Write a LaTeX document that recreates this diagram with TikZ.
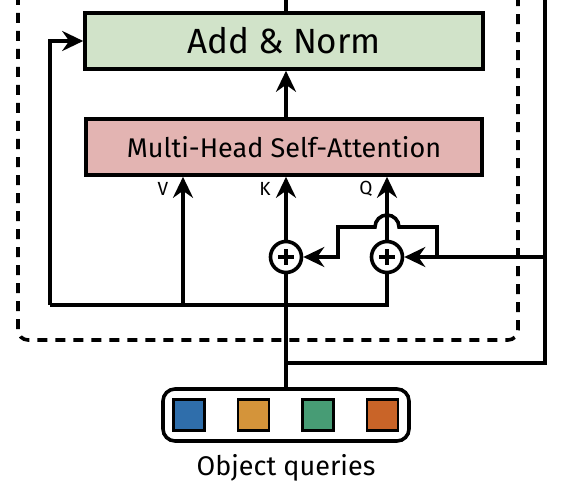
\documentclass[tikz,border=0pt]{standalone}
\usepackage{fontspec}
\setmainfont{Fira Sans}
\usetikzlibrary{arrows.meta,positioning}

\definecolor{normgreen}{HTML}{D1E3C9}
\definecolor{attnpink}{HTML}{E3B4B2}
\definecolor{qblue}{HTML}{2F6EAB}
\definecolor{qorange}{HTML}{D4943A}
\definecolor{qgreen}{HTML}{479C75}
\definecolor{qrust}{HTML}{C96428}

\begin{document}
\begin{tikzpicture}[x=1pt,y=-1pt,line width=3.6pt]
			\tikzset{layer/.style={draw,minimum width=398pt,minimum height=56pt,inner sep=0pt}}
			\tikzset{arr/.style={-{Stealth[length=21pt,width=20pt,inset=7pt]}}}
			\tikzset{plus/.style={circle,draw,fill=white,minimum size=31pt,inner sep=0pt,
				path picture={\draw[line width=3.6pt] ([xshift=-8pt]path picture bounding box.center) -- ([xshift=8pt]path picture bounding box.center)
					([yshift=-8pt]path picture bounding box.center) -- ([yshift=8pt]path picture bounding box.center);}}}
			\tikzset{query/.style={draw,line width=2.4pt,minimum size=31pt,inner sep=0pt}}
			\tikzset{qkv/.style={font=\fontsize{19}{19}\selectfont,inner sep=0pt}}
			%\tikzset{dashbox/.style={dashed}}
			\tikzset{dashbox/.style={dash pattern=on 10pt off 8pt,rounded corners=10pt}}
			\useasboundingbox (0,0) rectangle (563,495);
			% blocks
			\node[layer,fill=normgreen,font=\fontsize{35}{35}\selectfont] (addnorm) at (284,41) {Add \& Norm};
			\node[layer,fill=attnpink,minimum width=396pt,font=\fontsize{27}{27}\selectfont] (mhsa) at (284,147) {Multi-Head Self-Attention};
			\node[plus] (plusk) at (286,257) {};
			\node[plus] (plusq) at (387,257) {};
			\node[draw,rounded corners=12pt,minimum width=246pt,minimum height=52pt] (queries) at (286,415) {};
			\foreach \c [count=\i] in {qblue,qorange,qgreen,qrust}
				\node[query,fill=\c] (q\i) at (189+64.5*\i-64.5,415) {};
			\node[font=\fontsize{27}{27}\selectfont] (qlabel) at (286,468) {Object queries};
			\node[qkv] (vlab) at (163,189) {V};
			\node[qkv] (klab) at (265,189) {K};
			\node[qkv] (qlab) at (366,189) {Q};
			% points on the lines
			\coordinate (res) at (50,305);
			\coordinate (vin) at (183,305);
			\coordinate (qin) at (387,305);
			\coordinate (branch) at (286,363);
			\coordinate (rtop) at (545,-5);
			\coordinate (posin) at (545,257);
			\coordinate (posup) at (437,257);
			\coordinate (hopr) at (399,227);
			\coordinate (kcorner) at (338,227);
			\coordinate (outtop) at (286,-5);
			% dashed layer frame
			\draw[dashbox] (18,-5) -- (18,340) -- (518,340) -- (518,-5);
			% connectors
			\draw (queries.north) -- (plusk);
			\draw[arr] (plusk) -- (plusk |- mhsa.south);
			\draw (res) -- (qin) -- (plusq);
			\draw[arr] (plusq) -- (plusq |- mhsa.south);
			\draw[arr] (vin) -- (vin |- mhsa.south);
			\draw[arr] (res) |- (addnorm.west);
			\draw[arr] (mhsa.north -| outtop) -- (addnorm.south -| outtop);
			\draw (addnorm.north -| outtop) -- (outtop);
			\draw (branch) -| (rtop);
			\draw[arr] (posin) -- (plusq);
			\draw[arr] (posup) |- (hopr) arc[start angle=0,end angle=180,radius=12pt] -- (kcorner) |- (plusk);
\end{tikzpicture}
\end{document}
